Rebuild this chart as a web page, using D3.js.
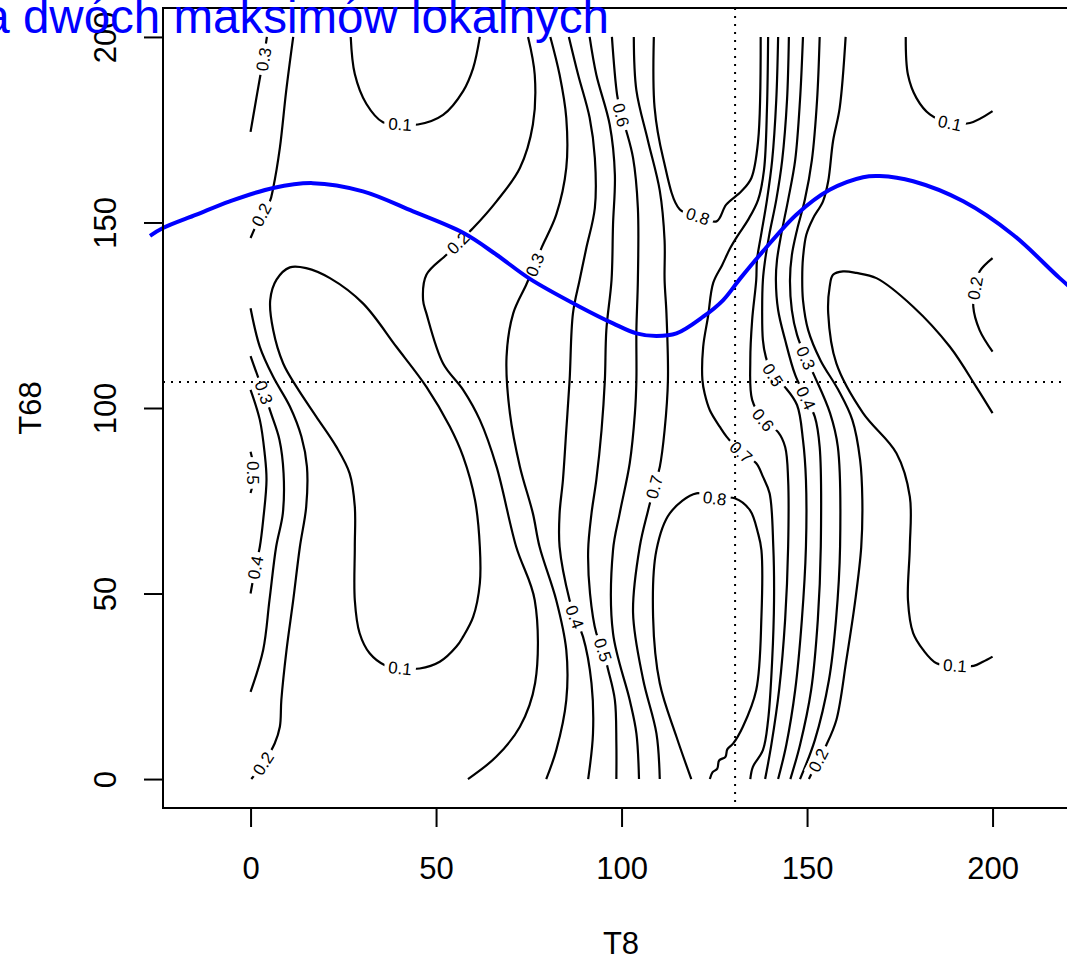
<!DOCTYPE html>
<html>
<head>
<meta charset="utf-8">
<script src="https://d3js.org/d3.v7.min.js"></script>
<style>
  body { margin: 0; background: #ffffff; }
  text { font-family: "Liberation Sans", Arial, sans-serif; }
</style>
</head>
<body>
<div id="chart"></div>
<script>
// tick values
var xTicks = [0, 50, 100, 150, 200];
var yTicks = [0, 50, 100, 150, 200];

// contour lines, points are [T8, T68]
var c03_tl = [[4.4,200],[3.5,194],[2.6,189.4],[1.2,181.4],[0,174.4]];
var c02_tl = [[11.5,200],[9.6,185.4],[7.9,170.1],[6.1,159.3],[5.2,155.7],[2.9,152.1],[0,145.8]];
var c01_tl = [[27,200],[28.1,190],[31.2,182],[35.7,177],[40.3,176.5],[45.1,176.4],[51.9,179],[57.3,185.4],[60,191.6],[61.8,200]];
var c01_ll = [[10.6,137.9],[15.0,137.7],[21.4,135.0],[30.3,128.2],[39.3,116.5],[47.4,105.7],[53.7,95.0],[57.3,86.9],[60.5,75.2],[61.8,62.6],[61.8,52.7],[60.0,43.7],[57.3,38.4],[55.5,35.7],[51.0,31.6],[45.6,29.8],[40.3,29.9],[36.2,30.7],[32.1,33.9],[29.4,39.3],[28.1,48.2],[28.1,62.6],[28.1,73.4],[26.7,82.4],[23.1,89.6],[17.7,97.7],[12.4,105.7],[8.8,112.0],[6.1,121.0],[5.3,129.1],[7.0,134.6]];
var c02_ll = [[0,126.9],[2.5,116.5],[6.1,108.4],[10.6,100.4],[13.7,92.3],[15.2,84.2],[15.0,73.4],[13.3,62.6],[11.5,48.2],[9.7,34.8],[8.3,21.3],[7.9,14.1],[6.5,9.6],[3.4,4.2],[0.2,0]];
var c03_l = [[0,114.0],[2.0,108.4],[3.6,104.2],[5.5,98.6],[7.8,91.4],[8.9,82.4],[8.7,71.6],[6.9,62.6],[5.1,48.2],[3.4,34.8],[0,23.5]];
var c04_l = [[0,104.9],[2.5,96.8],[3.8,87.8],[4.3,80.6],[3.4,69.8],[2.5,62.6],[1.3,57.0],[0,50]];
var c05_l = [[0,88.2],[0.6,85.5],[0.8,82.5],[0.6,79.5],[0,77.1]];
var c02_m = [[74.8,200],[76.6,189.8],[76.1,176.4],[72.6,164.7],[66.3,155.7],[60.0,148.5],[55.9,144.5],[52.8,141.3],[47.4,135.9],[46.5,129.1],[47.4,125.5],[51.9,112.0],[57.3,104.9],[61.8,96.8],[66.3,84.2],[71.6,62.6],[76.6,48.2],[76.7,25.9],[72.6,14.1],[66.2,6.0],[58.6,0]];
var c03_m = [[80.8,200],[83.3,189.8],[85.1,178.2],[85.1,164.7],[82.4,152.1],[78.4,143.1],[76.6,138.6],[74.3,133.2],[70.8,125.5],[69.0,113.8],[69.9,98.6],[72.6,84.2],[76.1,71.6],[77.9,62.6],[82.4,48.2],[85.1,34.8],[85.1,21.3],[82.4,7.8],[79.7,0]];
var c04_m = [[85.8,200],[88.3,189.8],[91.4,178.2],[92.8,167.4],[92.8,153.9],[90.5,143.1],[88.7,134.5],[86.9,125.5],[86.0,107.5],[85.1,94.0],[84.2,80.6],[83.3,71.6],[83.3,62.6],[86.0,48.2],[87.4,43.7],[89.6,38.4],[91.9,25.8],[92.3,12.3],[91.0,0]];
var c05_m = [[91.4,200],[93.2,189.8],[96.8,176.4],[98.2,162.9],[97.7,149.4],[97.3,134.5],[95.9,121.0],[95.5,107.5],[94.6,94.0],[93.2,80.6],[91.9,71.6],[91.0,61.7],[91.5,50],[93.2,39.3],[95.0,34.8],[96.4,29.4],[98.2,21.3],[98.6,9.6],[98.6,0]];
var c06_m = [[97.4,200],[98.8,184.4],[99.9,179.0],[101.3,174.6],[103.1,167.4],[104.4,153.9],[104.4,134.5],[104.0,121.0],[104.0,107.5],[103.6,98.6],[102.2,85.1],[99.5,71.6],[97.7,61.7],[97.7,39.3],[102.2,21.3],[104.0,12.3],[104.7,0]];
var c07_l = [[103.3,200],[104.0,185.6],[107.1,172.1],[110.3,158.6],[111.6,145.1],[111.6,134.5],[112.1,125.5],[112.5,107.5],[111.6,94.0],[110.3,84.1],[108.8,78.7],[107.1,72.2],[104.9,62.6],[103.1,44.8],[105.8,26.9],[109.4,12.3],[110.3,0]];
var c08_u = [[108.7,200],[108.9,181.0],[111.2,167.4],[115.7,153.5],[120.6,151.7],[125.6,150.3],[128.2,154.8],[132.3,158.4],[135.0,162.0],[136.8,171.9],[137.5,200]];
var c08_d = [[118.8,0],[114.8,11.4],[110.3,25.8],[108.5,43.7],[109.4,61.7],[113.0,71.6],[120.2,77.0],[125.1,75.7],[130.5,75.7],[134.6,72.5],[136.8,66.2],[137.7,61.7],[137.7,43.7],[136.3,24.0],[132.7,14.1],[130.1,9.6],[128.5,8.0],[128.0,6.0],[126.3,5.0],[125.8,2.8],[124.5,1.8],[123.8,0]];
var c07_r = [[139.5,200],[139.2,181.0],[138.4,164.2],[136.8,156.1],[134.1,150.7],[131.4,146.6],[129.3,143.1],[127.1,138.5],[124.7,133.7],[123.3,124.6],[122.0,116.5],[121.8,107.5],[122.4,103.9],[123.8,99.4],[126.5,94.9],[128.3,92.3],[132.2,88.1],[136.3,85.1],[138.1,81.5],[139.9,77.0],[140.9,62.6],[141.1,48.2],[140.6,32.1],[139.5,15.9],[138.1,7.8],[135.4,3.3],[134.7,0]];
var c06_r = [[142.2,200],[141.7,183.0],[140.6,166.8],[139.2,156.1],[137.6,146.6],[136.5,139.9],[136.3,134.5],[135.2,123.7],[134.7,112.9],[135.2,102.2],[138.2,96.8],[142.2,93.5],[144.1,89.5],[144.9,80.6],[144.9,62.6],[144.1,43.1],[142.5,24.3],[140.4,9.4],[138.7,0]];
var c05_r = [[145.1,200],[144.6,183.0],[143.3,166.8],[141.7,156.1],[139.8,146.6],[138.7,139.9],[138.1,134.5],[137.9,126.4],[138.1,118.3],[138.9,113.7],[140.8,108.9],[144.0,105.7],[147.3,100.8],[148.9,91.4],[149.7,80.6],[149.7,62.6],[148.6,42.9],[146.8,24.0],[144.4,9.2],[142.2,0]];
var c04_r = [[148.9,200],[148.1,183.0],[146.8,166.8],[144.9,156.1],[143.0,146.6],[141.9,139.9],[141.6,134.5],[142.2,126.4],[144.1,118.3],[146.8,108.9],[149.7,102.7],[152.1,97.6],[153.4,89.5],[153.7,62.6],[152.9,42.9],[151.1,24.0],[148.1,9.2],[145.5,0]];
var c03_r = [[153.4,200],[152.7,183.0],[151.3,166.8],[149.4,156.1],[147.3,148.0],[145.9,141.2],[145.4,134.5],[145.9,126.4],[147.3,119.7],[149.7,113.5],[152.1,108.4],[156.2,98.6],[158.3,89.5],[158.9,62.6],[157.8,42.9],[155.9,26.7],[152.1,10.5],[148.1,0]];
var c02_r = [[160.4,200],[158.8,180.9],[157.0,171.9],[155.7,161.1],[154.3,155.7],[151.6,151.1],[149.8,146.7],[148.9,140.4],[148.7,135.0],[148.9,129.1],[150.3,121.0],[153.6,112.9],[158.4,104.9],[162.2,96.8],[164.3,86.0],[164.9,75.2],[164.6,62.5],[163.0,48.2],[160.6,32.1],[157.9,15.9],[155.2,9.2],[153.0,5.1],[150.5,0]];
var c02_rr = [[200,140.4],[196.5,136.8],[195.3,132.3],[194.8,127.3],[196.5,121.0],[200,115.2]];
var c01_tr = [[176.6,200],[177.2,189.8],[179.5,183.5],[183.1,179.1],[188.5,176.8],[193.9,176.8],[200,180]];
var c01_r = [[200,98.6],[195.6,105.7],[188.5,116.5],[178.6,127.3],[168.7,135.0],[163.3,136.4],[159.7,136.8],[157.0,135.9],[156.1,132.7],[155.7,125.5],[157.9,112.0],[165.1,98.6],[174.1,87.8],[177.7,76.1],[177.7,62.6],[177.2,48.2],[178.6,39.3],[181.3,34.8],[184.9,31.2],[189.9,30.6],[194.9,30.5],[197.4,31.6],[200,33]];

// level and the point where R put the label
var contourLines = [
  {level: "0.3", pts: c03_tl, lab: 1},
  {level: "0.2", pts: c02_tl, lab: 5},
  {level: "0.1", pts: c01_tl, lab: 4},
  {level: "0.1", pts: c01_ll, lab: 16, closed: true},
  {level: "0.2", pts: c02_ll, lab: 13},
  {level: "0.3", pts: c03_l, lab: 2},
  {level: "0.4", pts: c04_l, lab: 6},
  {level: "0.5", pts: c05_l, lab: 2},
  {level: "0.2", pts: c02_m, lab: 6},
  {level: "0.3", pts: c03_m, lab: 6},
  {level: "0.4", pts: c04_m, lab: 14},
  {level: "0.5", pts: c05_m, lab: 14},
  {level: "0.6", pts: c06_m, lab: 2},
  {level: "0.7", pts: c07_l, lab: 10},
  {level: "0.8", pts: c08_u, lab: 4},
  {level: "0.8", pts: c08_d, lab: 7},
  {level: "0.7", pts: c07_r, lab: 16},
  {level: "0.6", pts: c06_r, lab: 10},
  {level: "0.5", pts: c05_r, lab: 10},
  {level: "0.4", pts: c04_r, lab: 10},
  {level: "0.3", pts: c03_r, lab: 9},
  {level: "0.2", pts: c02_r, lab: 21},
  {level: "0.2", pts: c02_rr, lab: 2},
  {level: "0.1", pts: c01_tr, lab: 4},
  {level: "0.1", pts: c01_r, lab: 19}
];

// blue path (starts a little left of the box, as in the picture)
var blueCurve = [[-27.1,146.4],[-23.6,148.5],[-14.6,152.1],[-5.6,155.7],[6.1,159.3],[16.8,160.6],[30.3,158.4],[43.8,153.0],[57.3,147.2],[66.3,141.3],[75.3,134.8],[88.7,127.3],[97.7,122.8],[104.0,120.1],[109.4,119.4],[114.8,120.1],[122.0,124.6],[127.4,129.1],[131.9,134.8],[138.1,142.2],[147.1,152.1],[156.1,158.8],[165.1,162.2],[169.6,162.5],[178.6,161.1],[192.1,155.7],[205.5,146.7],[218.1,135.0],[223.3,130.5]];

// dotted cross
var markT8 = 130.6, markT68 = 107;

(function() {
  var W = 1067, H = 960;
  var pL = 163, pT = 8, pR = 1079, pB = 808;

  var x = d3.scaleLinear().domain([-23.6, 223.3]).range([pL, pR]);
  var y = d3.scaleLinear().domain([-7.8, 207.8]).range([pB, pT]);

  var svg = d3.select("#chart").append("svg")
    .attr("width", W).attr("height", H);

  var defs = svg.append("defs");
  defs.append("clipPath").attr("id", "plotclip")
    .append("rect").attr("x", pL).attr("y", pT)
    .attr("width", pR - pL).attr("height", pB - pT);

  var mask = defs.append("mask").attr("id", "gaps")
    .attr("maskUnits", "userSpaceOnUse")
    .attr("x", 0).attr("y", 0).attr("width", W).attr("height", H);
  mask.append("rect").attr("width", W).attr("height", H).attr("fill", "white");

  var line = d3.line().x(function(d) { return x(d[0]); }).y(function(d) { return y(d[1]); })
    .curve(d3.curveCatmullRom.alpha(0.5));
  var lineClosed = d3.line().x(function(d) { return x(d[0]); }).y(function(d) { return y(d[1]); })
    .curve(d3.curveCatmullRomClosed.alpha(0.5));

  var plot = svg.append("g").attr("clip-path", "url(#plotclip)");

  var cg = plot.append("g").attr("mask", "url(#gaps)");
  cg.selectAll("path").data(contourLines).join("path")
    .attr("d", function(d) { return d.closed ? lineClosed(d.pts) : line(d.pts); })
    .attr("fill", "none").attr("stroke", "#000").attr("stroke-width", 2.2);

  // labels sit in a gap of the line, turned along it
  var lg = plot.append("g");
  contourLines.forEach(function(c) {
    var n = c.pts.length;
    var p = c.pts[c.lab];
    var a = c.pts[(c.lab - 1 + n) % n], b = c.pts[(c.lab + 1) % n];
    var ang = Math.atan2(y(b[1]) - y(a[1]), x(b[0]) - x(a[0])) * 180 / Math.PI;
    if (ang > 90) ang -= 180;
    if (ang < -90) ang += 180;
    var tr = "translate(" + x(p[0]) + "," + y(p[1]) + ") rotate(" + ang + ")";
    var t = lg.append("text").attr("transform", tr)
      .attr("text-anchor", "middle").attr("dy", "0.36em")
      .attr("font-size", 17).attr("fill", "#000").text(c.level);
    var w = t.node().getComputedTextLength();
    mask.append("rect").attr("transform", tr)
      .attr("x", -w / 2 - 4).attr("y", -8).attr("width", w + 8).attr("height", 16)
      .attr("fill", "black");
  });

  // dotted lines
  plot.append("line")
    .attr("x1", pL).attr("x2", pR).attr("y1", y(markT68)).attr("y2", y(markT68))
    .attr("stroke", "#000").attr("stroke-width", 2).attr("stroke-dasharray", "2,6");
  plot.append("line")
    .attr("x1", x(markT8)).attr("x2", x(markT8)).attr("y1", pT).attr("y2", pB)
    .attr("stroke", "#000").attr("stroke-width", 2).attr("stroke-dasharray", "2,6");

  // blue line is not clipped to the box
  svg.append("path").datum(blueCurve)
    .attr("d", line).attr("fill", "none")
    .attr("stroke", "#0000ff").attr("stroke-width", 4);

  // box
  svg.append("rect").attr("x", pL).attr("y", pT)
    .attr("width", pR - pL).attr("height", pB - pT)
    .attr("fill", "none").attr("stroke", "#000").attr("stroke-width", 2);

  // axes
  var xAxis = svg.append("g").attr("transform", "translate(0," + pB + ")")
    .call(d3.axisBottom(x).tickValues(xTicks).tickSize(19).tickSizeOuter(0));
  xAxis.select(".domain").remove();
  xAxis.selectAll("line").attr("stroke-width", 2);
  xAxis.selectAll("text").attr("y", 71).attr("dy", null)
    .attr("font-size", 31).attr("font-family", "Liberation Sans, Arial, sans-serif");

  var yAxis = svg.append("g").attr("transform", "translate(" + pL + ",0)")
    .call(d3.axisLeft(y).tickValues(yTicks).tickSize(19).tickSizeOuter(0));
  yAxis.select(".domain").remove();
  yAxis.selectAll("line").attr("stroke-width", 2);
  yAxis.selectAll("text")
    .attr("x", 0).attr("y", 0).attr("dy", null)
    .attr("text-anchor", "middle")
    .attr("transform", "translate(-47,0) rotate(-90)")
    .attr("font-size", 31).attr("font-family", "Liberation Sans, Arial, sans-serif");

  svg.append("text").attr("x", (pL + pR) / 2).attr("y", 954)
    .attr("text-anchor", "middle").attr("font-size", 31).text("T8");
  svg.append("text").attr("transform", "translate(41," + ((pT + pB) / 2) + ") rotate(-90)")
    .attr("text-anchor", "middle").attr("font-size", 31).text("T68");

  // title, cut by the left edge as in the picture
  svg.append("text").attr("x", 609).attr("y", 33)
    .attr("text-anchor", "end").attr("font-size", 47.5).attr("fill", "#0000ff")
    .text("a dwóch maksimów lokalnych");
})();
</script>
</body>
</html>
